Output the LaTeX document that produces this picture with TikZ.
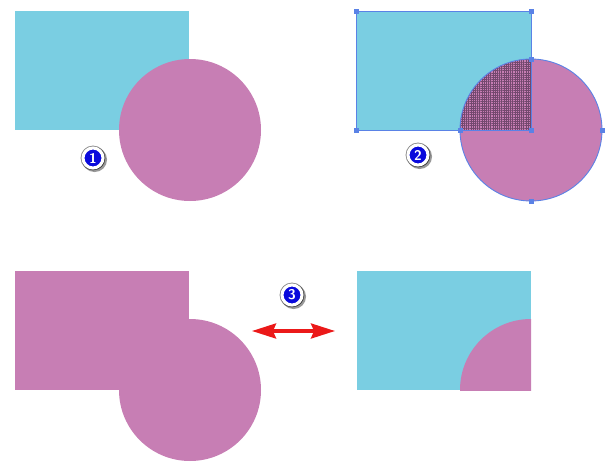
\documentclass[tikz,border=0pt]{standalone}
\usetikzlibrary{arrows.meta,patterns.meta,shadows}
\definecolor{cyanfill}{RGB}{122,206,226}
\definecolor{pinkfill}{RGB}{199,126,180}
\definecolor{selblue}{RGB}{90,130,230}
\definecolor{badgeblue}{RGB}{10,10,220}
\definecolor{hatchcol}{RGB}{115,72,110}
\definecolor{arrowred}{RGB}{235,25,25}
\tikzset{
  badge/.style={circle,fill=badgeblue,draw=white,line width=3pt,
    minimum size=20pt,inner sep=0pt,
    text=white,font=\sffamily\bfseries\fontsize{14}{16}\selectfont,
    preaction={draw=black!45,line width=4.8pt},
    drop shadow={shadow xshift=1.6pt,shadow yshift=-1.6pt,opacity=0.4,fill=black,draw=black,line width=4.8pt}},
  handle/.style={fill=selblue,draw=none,minimum size=5pt,inner sep=0pt,rectangle},
  sel/.style={draw=selblue,line width=0.9pt},
}
\begin{document}
\begin{tikzpicture}[x=1pt,y=-1pt]
\useasboundingbox (0,0) rectangle (613,471);
% Panel 1
\fill[cyanfill] (15,11) rectangle (189,130);
\fill[pinkfill] (190,130) circle[radius=71];
\node[badge] (b1) at (93,158) {1};
% Panel 2
\fill[cyanfill] (356,11) rectangle (531,130);
\fill[pinkfill] (531,130) circle[radius=71];
\begin{scope}
  \clip (356,11) rectangle (531,130);
  \fill[pinkfill] (531,130) circle[radius=71];
  \fill[pattern={Hatch[angle=0,distance=2.2pt,line width=0.3pt]},pattern color=hatchcol] (531,130) circle[radius=71];
\end{scope}
\draw[sel] (356,11) rectangle (531,130);
\draw[sel] (531,130) circle[radius=71];
\draw[sel] (460,130) -- (531,130) -- (531,59);
\foreach \p in {(356,11),(531,11),(356,130),(531,130),(531,59),(460,130),(602,130),(531,201)}
  \node[handle] at \p {};
\node[badge] (b2) at (418,155) {2};
% Panel 3
\fill[pinkfill] (15,271) rectangle (189,390);
\fill[pinkfill] (190,390) circle[radius=71];
\node[badge] (b3) at (292,295) {3};
\coordinate (al) at (252,331);
\coordinate (ar) at (335,331);
\draw[arrowred,line width=3.2pt,{Stealth[length=24pt,width=15pt,inset=3pt]}-{Stealth[length=24pt,width=15pt,inset=3pt]}] (al) -- (ar);
% Panel 4
\fill[cyanfill] (357,271) rectangle (531,390);
\begin{scope}
  \clip (357,271) rectangle (531,390);
  \fill[pinkfill] (531,390) circle[radius=71];
\end{scope}
\end{tikzpicture}
\end{document}
